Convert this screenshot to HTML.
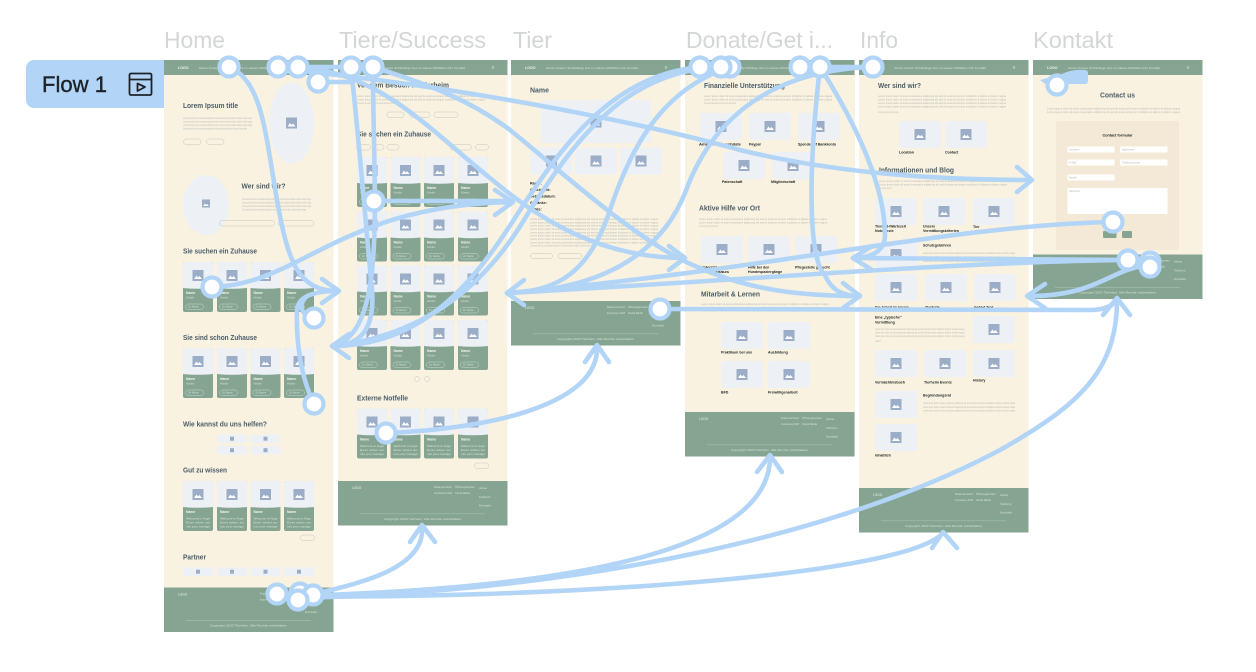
<!DOCTYPE html>
<html><head><meta charset="utf-8"><title>Flow 1</title>
<style>
html,body{margin:0;padding:0;background:#fff;width:1256px;height:672px;overflow:hidden}
svg{display:block;font-family:"Liberation Sans",sans-serif}
.t{font-size:23px;fill:#d3d7d4}
.h{font-size:7px;font-weight:bold;fill:#4a5d68}
.p{font-size:2.6px;fill:#b5bab3}
.b{font-size:3.6px;font-weight:bold;fill:#1c2222}
.w{font-size:3.4px;font-weight:bold;fill:#f4f4ee}
.s{font-size:2.6px;fill:#d5e0d7}
.o{fill:none;stroke:#c3c6bd;stroke-width:.5}
.ow{fill:none;stroke:#c9d8cd;stroke-width:.5}
.c{fill:none;stroke:#b2d5f7;stroke-width:4.6;stroke-linecap:round;stroke-linejoin:round}
.n{fill:#fff;stroke:#b2d5f7;stroke-width:4.2}
</style></head><body>
<svg width="1256" height="672" viewBox="0 0 1256 672" xmlns="http://www.w3.org/2000/svg">
<defs>
<symbol id="ic" viewBox="0 0 11 11" overflow="visible"><rect width="11" height="11" fill="#9cadc7"/><path d="M1.5 9 L4 5.5 L5.5 7.5 L7 6 L9.5 9Z" fill="#fff"/></symbol>
<g id="hd"><rect width="169.5" height="15" fill="#85a592"/><text x="14" y="9" font-size="3.6" font-weight="bold" fill="#f0f2ea">LOGO</text><text x="35" y="8.8" class="s" textLength="92" lengthAdjust="spacingAndGlyphs">Home  Unsere Schützlinge  Gut zu wissen  Mithelfen  Info  Kontakt</text><circle cx="155" cy="7.5" r="1" fill="none" stroke="#e4ebe4" stroke-width=".5"/></g>
<g id="ft"><rect width="169.5" height="44.5" fill="#85a592"/><text x="14" y="8" font-size="3.2" fill="#eef1ea">LOGO</text><text x="96" y="7" class="s" textLength="18" lengthAdjust="spacingAndGlyphs">Datenschutz</text><text x="117" y="7" class="s" textLength="20" lengthAdjust="spacingAndGlyphs">Öffnungszeiten</text><text x="96" y="13" class="s" textLength="18" lengthAdjust="spacingAndGlyphs">Impressum AGB</text><text x="117" y="13" class="s" textLength="15" lengthAdjust="spacingAndGlyphs">Social Media</text><text x="141" y="8" class="s" textLength="8" lengthAdjust="spacingAndGlyphs">Adresse</text><text x="141" y="17" class="s" textLength="12" lengthAdjust="spacingAndGlyphs">Telefonnr.</text><text x="141" y="25.500" class="s" textLength="12" lengthAdjust="spacingAndGlyphs">Kontakt</text><rect x="22" y="32.500" width="125" height=".6" fill="#a9c0b0"/><text x="46" y="39" class="s" textLength="77" lengthAdjust="spacingAndGlyphs">Copyright 2023 Tierheim. Alle Rechte vorbehalten</text></g>
<g id="cd"><rect width="30" height="50" rx="2" fill="#85a592"/><path d="M0 26V2a2 2 0 0 1 2-2h26a2 2 0 0 1 2 2v24q-15 1.500-30 0z" fill="#edf1f6"/><use href="#ic" x="9.500" y="8" width="11" height="11"/><text x="3" y="32" class="w">Name</text><text x="3" y="36.500" class="s">Hündin</text><rect x="2.500" y="42" width="18" height="5.500" rx="2.700" class="ow"/><text x="5" y="45.700" class="s" font-size="2.200">Zu Name</text></g>
<g id="cp"><rect width="30" height="50" rx="2" fill="#85a592"/><path d="M0 26V2a2 2 0 0 1 2-2h26a2 2 0 0 1 2 2v24q-15 1.500-30 0z" fill="#edf1f6"/><use href="#ic" x="9.500" y="8" width="11" height="11"/><text x="3" y="32" class="w">Name</text><text x="3" y="38.500" class="s" textLength="24" lengthAdjust="spacingAndGlyphs">Welcome to Huge</text><text x="3" y="42.500" class="s" textLength="24" lengthAdjust="spacingAndGlyphs">Ever when an</text><text x="3" y="46.500" class="s" textLength="24" lengthAdjust="spacingAndGlyphs">into your manage</text></g>
<g id="pl"><rect width="30" height="8.500" rx="2" fill="#edf1f6"/><rect x="13" y="2.200" width="4" height="4" fill="#9cadc7"/></g>
<g id="im"><rect width="42" height="27" rx="3" fill="#edf1f6"/><use href="#ic" x="15.500" y="8" width="11" height="11"/></g>
<g id="tp"><text class="p" textLength="128" lengthAdjust="spacingAndGlyphs">Lorem ipsum dolor sit amet consectetur adipiscing elit sed do eiusmod tempor incididunt ut labore et dolore magna</text></g>
</defs>

<!-- Titles -->
<text x="164" y="48" class="t" textLength="61" lengthAdjust="spacingAndGlyphs">Home</text>
<text x="339" y="48" class="t" textLength="147" lengthAdjust="spacingAndGlyphs">Tiere/Success</text>
<text x="513" y="48" class="t" textLength="39" lengthAdjust="spacingAndGlyphs">Tier</text>
<text x="686" y="48" class="t" textLength="147" lengthAdjust="spacingAndGlyphs">Donate/Get i...</text>
<text x="860" y="48" class="t" textLength="38" lengthAdjust="spacingAndGlyphs">Info</text>
<text x="1033" y="48" class="t" textLength="80" lengthAdjust="spacingAndGlyphs">Kontakt</text>

<!-- Flow -->
<path d="M164 60H34a8 8 0 0 0-8 8v32a8 8 0 0 0 8 8H164z" fill="#b2d5f7"/>
<text x="42" y="92" font-size="22" fill="#1e2329" stroke="#1e2329" stroke-width=".4" textLength="65" lengthAdjust="spacingAndGlyphs">Flow 1</text>
<g fill="none" stroke="#1e2329" stroke-width="1.800"><rect x="129.500" y="73.500" width="22" height="21.500" rx="1.500"/><path d="M129.500 79.500H151.500"/><path d="M137.500 83.500L145 87 137.500 91z" stroke-linejoin="round"/></g>

<!-- Home -->
<rect x="164" y="60" width="169.500" height="572" fill="#f9f2e1"/>
<use href="#hd" x="164" y="60"/>
<text x="183" y="108" class="h" textLength="55" lengthAdjust="spacingAndGlyphs">Lorem Ipsum title</text>
<use href="#tp" transform="translate(183 119) scale(.54 1)"/><use href="#tp" transform="translate(183 122.500) scale(.54 1)"/><use href="#tp" transform="translate(183 126) scale(.54 1)"/><use href="#tp" transform="translate(183 129.500) scale(.5 1)"/>
<rect x="183.500" y="139" width="17.500" height="5.500" rx="2.700" class="o"/><rect x="206.500" y="139" width="17.500" height="5.500" rx="2.700" class="o"/>
<ellipse cx="291.500" cy="123" rx="22.500" ry="40.500" fill="#edf1f6"/><use href="#ic" x="286" y="117.500" width="11" height="11"/>
<ellipse cx="206" cy="205" rx="23" ry="30" fill="#edf1f6"/><use href="#ic" x="200.500" y="199.500" width="11" height="8"/>
<text x="241.500" y="188.500" class="h" textLength="44" lengthAdjust="spacingAndGlyphs">Wer sind wir?</text>
<use href="#tp" transform="translate(242 200) scale(.54 1)"/><use href="#tp" transform="translate(242 203.500) scale(.54 1)"/><use href="#tp" transform="translate(242 207) scale(.54 1)"/><use href="#tp" transform="translate(242 210.500) scale(.5 1)"/>
<rect x="219.500" y="220.500" width="55" height="5.500" rx="2.700" class="o"/><rect x="278" y="220.500" width="36" height="5.500" rx="2.700" class="o"/>
<text x="183" y="253.500" class="h" textLength="74" lengthAdjust="spacingAndGlyphs">Sie suchen ein Zuhause</text>
<use href="#cd" x="183" y="262"/><use href="#cd" x="217" y="262"/><use href="#cd" x="250.500" y="262"/><use href="#cd" x="284" y="262"/>
<text x="183" y="340" class="h" textLength="74" lengthAdjust="spacingAndGlyphs">Sie sind schon Zuhause</text>
<use href="#cd" x="183" y="348"/><use href="#cd" x="217" y="348"/><use href="#cd" x="250.500" y="348"/><use href="#cd" x="284" y="348"/>
<text x="183" y="426.500" class="h" textLength="84" lengthAdjust="spacingAndGlyphs">Wie kannst du uns helfen?</text>
<use href="#pl" x="217" y="434.500"/><use href="#pl" x="250.500" y="434.500"/><use href="#pl" x="217" y="446"/><use href="#pl" x="250.500" y="446"/>
<text x="183" y="472.500" class="h" textLength="44" lengthAdjust="spacingAndGlyphs">Gut zu wissen</text>
<use href="#cp" x="183" y="481"/><use href="#cp" x="217" y="481"/><use href="#cp" x="250.500" y="481"/><use href="#cp" x="284" y="481"/>
<rect x="300.500" y="535" width="14" height="5.500" rx="2.700" class="o"/>
<text x="183" y="559.500" class="h" textLength="23" lengthAdjust="spacingAndGlyphs">Partner</text>
<use href="#pl" x="183" y="567.500"/><use href="#pl" x="217" y="567.500"/><use href="#pl" x="250.500" y="567.500"/><use href="#pl" x="284" y="567.500"/>
<use href="#ft" x="164" y="587.500"/>

<!-- Tiere -->
<rect x="338" y="60" width="169.500" height="465" fill="#f9f2e1"/>
<use href="#hd" x="338" y="60"/>
<text x="357" y="87.500" class="h" textLength="92" lengthAdjust="spacingAndGlyphs">Vor dem Besuch im Tierheim</text>
<use href="#tp" transform="translate(357 97)"/><use href="#tp" transform="translate(357 100.500)"/><use href="#tp" transform="translate(357 104) scale(.3 1)"/>
<rect x="387" y="112" width="17" height="5.500" rx="2.700" class="o"/><rect x="410" y="112" width="20" height="5.500" rx="2.700" class="o"/><rect x="434" y="112" width="24" height="5.500" rx="2.700" class="o"/>
<text x="357" y="136.500" class="h" textLength="74" lengthAdjust="spacingAndGlyphs">Sie suchen ein Zuhause</text>
<rect x="356.500" y="144.500" width="14" height="5.500" rx="2.700" class="o"/><rect x="374" y="144.500" width="10" height="5.500" rx="2.700" class="o"/><rect x="387" y="144.500" width="12" height="5.500" rx="2.700" class="o"/><rect x="450.500" y="144.500" width="21" height="5.500" rx="2.700" class="o"/><rect x="475.500" y="144.500" width="13" height="5.500" rx="2.700" class="o"/>
<use href="#cd" x="357" y="157"/><use href="#cd" x="390.500" y="157"/><use href="#cd" x="424" y="157"/><use href="#cd" x="458" y="157"/>
<use href="#cd" x="357" y="211.500"/><use href="#cd" x="390.500" y="211.500"/><use href="#cd" x="424" y="211.500"/><use href="#cd" x="458" y="211.500"/>
<use href="#cd" x="357" y="265.500"/><use href="#cd" x="390.500" y="265.500"/><use href="#cd" x="424" y="265.500"/><use href="#cd" x="458" y="265.500"/>
<use href="#cd" x="357" y="320"/><use href="#cd" x="390.500" y="320"/><use href="#cd" x="424" y="320"/><use href="#cd" x="458" y="320"/>
<circle cx="417" cy="379" r="2.500" class="o"/><circle cx="427" cy="379" r="2.500" class="o"/>
<text x="357" y="400.500" class="h" textLength="51" lengthAdjust="spacingAndGlyphs">Externe Notfelle</text>
<use href="#cp" x="357" y="408.500"/><use href="#cp" x="390.500" y="408.500"/><use href="#cp" x="424" y="408.500"/><use href="#cp" x="458" y="408.500"/>
<rect x="474.500" y="463" width="14" height="5.500" rx="2.700" class="o"/>
<use href="#ft" x="338" y="481"/>

<!-- Tier -->
<rect x="511" y="60" width="169.500" height="285" fill="#f9f2e1"/>
<use href="#hd" x="511" y="60"/>
<text x="530" y="92.500" class="h" textLength="19" lengthAdjust="spacingAndGlyphs">Name</text>
<rect x="541" y="100" width="110" height="43" rx="3" fill="#edf1f6"/><use href="#ic" x="590.500" y="116.500" width="11" height="11"/>
<use href="#im" x="530.500" y="147.500"/><use href="#im" x="575" y="147.500"/><use href="#im" x="620" y="147.500"/>
<text x="530" y="184.500" class="b">Rasse:</text><text x="530" y="191" class="b">Geschlecht:</text><text x="530" y="197.500" class="b">Geburtsdatum:</text><text x="530" y="204" class="b">Getränke:</text><text x="530" y="210.500" class="b">Größe:</text>
<use href="#tp" transform="translate(530 220)"/><use href="#tp" transform="translate(530 223.300)"/><use href="#tp" transform="translate(530 226.600)"/><use href="#tp" transform="translate(530 230)"/><use href="#tp" transform="translate(530 233.300)"/><use href="#tp" transform="translate(530 236.600)"/><use href="#tp" transform="translate(530 240)"/><use href="#tp" transform="translate(530 243.300)"/><use href="#tp" transform="translate(530 246.600) scale(.5 1)"/>
<rect x="530.500" y="253.500" width="22" height="5" rx="2.500" class="o"/><rect x="558" y="253.500" width="24" height="5" rx="2.500" class="o"/>
<use href="#ft" x="511" y="301"/>

<!-- Donate -->
<rect x="685" y="60" width="170" height="396" fill="#f9f2e1"/>
<use href="#hd" x="685" y="60"/>
<text x="704" y="88" class="h" textLength="81" lengthAdjust="spacingAndGlyphs">Finanzielle Unterstützung</text>
<use href="#tp" transform="translate(704 97)"/><use href="#tp" transform="translate(704 100.500)"/><use href="#tp" transform="translate(704 104) scale(.25 1)"/>
<use href="#im" x="700" y="113" /><use href="#im" x="749" y="113"/><use href="#im" x="798" y="113"/>
<text x="699" y="145.500" class="b" textLength="42" lengthAdjust="spacingAndGlyphs">Amazon Wunschliste</text><text x="749" y="145.500" class="b">Paypal</text><text x="798" y="145.500" class="b" textLength="38" lengthAdjust="spacingAndGlyphs">Spende auf Bankkonto</text>
<use href="#im" x="723" y="152"/><use href="#im" x="772" y="152"/>
<text x="722" y="183" class="b">Patenschaft</text><text x="771" y="183" class="b">Mitgliedschaft</text>
<text x="699" y="210.500" class="h" textLength="61" lengthAdjust="spacingAndGlyphs">Aktive Hilfe vor Ort</text>
<use href="#tp" transform="translate(699 220)"/><use href="#tp" transform="translate(699 223.500)"/><use href="#tp" transform="translate(699 227) scale(.15 1)"/>
<use href="#im" x="701" y="236"/><use href="#im" x="748" y="236"/><use href="#im" x="795" y="236"/>
<text x="701" y="268.500" class="b" textLength="30" lengthAdjust="spacingAndGlyphs">Unterstützung im</text><text x="701" y="273" class="b" textLength="28" lengthAdjust="spacingAndGlyphs">Katzenhaus</text><text x="748" y="268.500" class="b">Hilfe bei den</text><text x="748" y="273" class="b">Hundespaziergänge</text><text x="795" y="268.500" class="b">Pflegestelle gesucht</text>
<text x="701" y="296.500" class="h" textLength="59" lengthAdjust="spacingAndGlyphs">Mitarbeit &amp; Lernen</text>
<use href="#tp" transform="translate(701 305)"/><use href="#tp" transform="translate(701 311.500) scale(.12 1)"/>
<use href="#im" x="721" y="322"/><use href="#im" x="768" y="322"/>
<text x="721" y="353.500" class="b">Praktikum bei uns</text><text x="768" y="353.500" class="b">Ausbildung</text>
<use href="#im" x="721" y="361"/><use href="#im" x="768" y="361"/>
<text x="721" y="393.500" class="b">BFD</text><text x="768" y="393.500" class="b">Freiwilligenarbeit</text>
<use href="#ft" x="685" y="412"/>

<!-- Info -->
<rect x="859" y="60" width="169.500" height="472" fill="#f9f2e1"/>
<use href="#hd" x="859" y="60"/>
<text x="878" y="88" class="h" textLength="43" lengthAdjust="spacingAndGlyphs">Wer sind wir?</text>
<use href="#tp" transform="translate(878 97)"/><use href="#tp" transform="translate(878 100.500)"/><use href="#tp" transform="translate(878 104)"/><use href="#tp" transform="translate(878 107.500)"/><use href="#tp" transform="translate(878 113) scale(.16 1)"/>
<use href="#im" x="899" y="121"/><use href="#im" x="945" y="121"/>
<text x="899" y="153.500" class="b">Location</text><text x="945" y="153.500" class="b">Contact</text>
<text x="879" y="172.500" class="h" textLength="75" lengthAdjust="spacingAndGlyphs">Informationen und Blog</text>
<use href="#tp" transform="translate(879 182)"/><use href="#tp" transform="translate(879 185.500)"/><use href="#tp" transform="translate(879 189) scale(.1 1)"/>
<use href="#im" x="875" y="198"/><use href="#im" x="923" y="198"/><use href="#im" x="973" y="198"/>
<text x="875" y="227.500" class="b">Tierarzt-/Wartezeit</text><text x="875" y="232" class="b">Notdienste</text><text x="923" y="227.500" class="b">Unsere</text><text x="923" y="232" class="b">Vermittlungskriterien</text><text x="973" y="228" class="b">Tier</text><text x="973" y="233" class="b">gefunden?</text>
<use href="#im" x="875" y="241"/>
<text x="923" y="246.500" class="b">Schutzgebühren</text>
<use href="#tp" transform="translate(923 254) scale(.72 1)"/><use href="#tp" transform="translate(923 258) scale(.72 1)"/><use href="#tp" transform="translate(923 262) scale(.72 1)"/>
<use href="#im" x="875" y="274"/><use href="#im" x="925" y="274"/><use href="#im" x="974" y="274"/>
<text x="875" y="308.500" class="b">Die Arbeit im Verein</text><text x="925" y="308.500" class="b">Tierärzte</text><text x="974" y="308.500" class="b">Gebiet Text</text>
<text x="875" y="318.500" class="b">Eine „typische"</text><text x="875" y="323.500" class="b">Vermittlung</text>
<use href="#tp" transform="translate(875 330) scale(.7 1)"/><use href="#tp" transform="translate(875 333.500) scale(.7 1)"/><use href="#tp" transform="translate(875 337) scale(.7 1)"/><text x="875" y="342" class="p" fill="#555">mehr</text>
<use href="#im" x="973" y="316"/>
<use href="#im" x="875" y="350"/><use href="#im" x="924" y="350"/><use href="#im" x="973" y="350"/>
<text x="875" y="383.500" class="b">Vermächtnisbuch</text><text x="924" y="383.500" class="b">Tierheim Events</text><text x="973" y="381.500" class="b">History</text>
<use href="#im" x="875" y="391"/>
<text x="923" y="396.500" class="b">Begründungsrat</text>
<use href="#tp" transform="translate(923 404) scale(.72 1)"/><use href="#tp" transform="translate(923 408) scale(.72 1)"/><use href="#tp" transform="translate(923 411.500) scale(.72 1)"/>
<use href="#im" x="875" y="424"/>
<text x="875" y="456.500" class="b">Inhaltlich</text>
<use href="#ft" x="859" y="488"/>

<!-- Kontakt -->
<rect x="1033" y="60" width="169.500" height="239" fill="#f9f2e1"/>
<use href="#hd" x="1033" y="60"/>
<text x="1100" y="97.500" class="h" textLength="35" lengthAdjust="spacingAndGlyphs">Contact us</text>
<use href="#tp" transform="translate(1047 109.500) scale(1.040 1)"/><use href="#tp" transform="translate(1047 113) scale(1.040 1)"/>
<rect x="1056" y="121" width="123" height="129" rx="2" fill="#f4e8d6"/>
<text x="1102.500" y="136.500" class="b" textLength="30" lengthAdjust="spacingAndGlyphs">Contact formular</text>
<g fill="#fff"><rect x="1067.500" y="146.500" width="47" height="6" rx="1"/><rect x="1120" y="146.500" width="47.500" height="6" rx="1"/><rect x="1067.500" y="159.500" width="47" height="6" rx="1"/><rect x="1120" y="159.500" width="47.500" height="6" rx="1"/><rect x="1067.500" y="174.500" width="47" height="6" rx="1"/><rect x="1067.500" y="188" width="100" height="26" rx="1"/></g>
<g class="p" font-size="2.400"><text x="1069" y="150.500" class="p">Vorname</text><text x="1122" y="150.500" class="p">Nachname</text><text x="1069" y="163.500" class="p">E-Mail</text><text x="1122" y="163.500" class="p">Telefonnummer</text><text x="1069" y="178.500" class="p">Betreff</text><text x="1069" y="192" class="p">Nachricht</text></g>
<rect x="1103" y="231" width="13.500" height="7" rx="1" fill="#85a592"/><rect x="1122" y="231" width="10" height="7" rx="1" fill="#85a592"/>
<use href="#ft" x="1033" y="254.500"/>

<!-- Connectors -->
<g class="c">
<path d="M232 68C262 85 265 130 277 200C288 262 298 291 338 291"/>
<path d="M212 287C300 285 340 205 512 202"/>
<path d="M314 404C300 375 296 340 297 310C298 296 315 291 338 291"/>
<path d="M314 318C302 316 298 306 305 298"/>
<path d="M351 67C360 150 368 250 372 290C375 330 360 345 333 346"/>
<path d="M373 67C373 200 388 332 333 346"/>
<path d="M374 201H512"/>
<path d="M278 67H351"/>
<path d="M298 67C380 72 430 130 490 178C540 220 600 258 685 258"/>
<path d="M310 72C480 90 650 125 740 150C830 172 930 180 1030 180"/>
<path d="M318 82H352"/>
<path d="M373 67C430 85 470 100 510 130C560 170 640 245 700 268C750 290 800 296 860 296"/>
<path d="M873 67C780 70 715 110 685 193C660 255 600 290 507 293"/>
<path d="M700 67C610 75 560 150 520 210C470 290 420 345 333 346"/>
<path d="M721 67C620 70 570 150 530 210C490 280 430 335 333 346"/>
<path d="M730 67C660 90 630 150 610 210C590 270 560 292 507 293"/>
<path d="M1113 222C950 225 770 270 507 293"/>
<path d="M1128 260C950 262 750 280 507 293"/>
<path d="M1128 260L853 258"/>
<path d="M660 309L1090 310C1105 310 1115 305 1117 298"/>
<path d="M1150 265C1110 268 1100 296 1028 296"/>
<path d="M820 67C808 170 808 260 825 275C832 292 845 296 860 296"/>
<path d="M820 67C860 130 885 190 885 235C885 252 870 258 853 258"/>
<path d="M800 67H873"/>
<path d="M313 594C370 582 425 565 422 527"/>
<path d="M300 596C480 590 770 570 770 457"/>
<path d="M298 598C600 590 850 530 1000 450C1080 405 1117 370 1117 300"/>
<path d="M277 596C500 600 900 580 943 533"/>
<path d="M386 433C470 430 600 410 597 346"/>
<!-- arrowheads -->
<path d="M322 279L339 291L322 303"/>
<path d="M349 334L332 346L349 358"/>
<path d="M495 190L513 202L495 215"/>
<path d="M669 246L685 258L669 270"/>
<path d="M524 280L507 293L524 305"/>
<path d="M585 362L597 345L609 362"/>
<path d="M410 542L422 525L435 542"/>
<path d="M757 472L770 455L782 472"/>
<path d="M932 548L943 532L957 548"/>
<path d="M1103 315L1117 298L1130 315"/>
<path d="M1017 167L1032 180L1017 192"/>
<path d="M843 283L860 296L843 308"/>
<path d="M872 246L853 258L872 270"/>
<path d="M1045 284L1027 296L1045 308"/>
</g>
<!-- blob -->
<path d="M1040 80L1062 74Q1070 70 1078 70H1085Q1088 70 1088 73V81Q1088 84 1085 84H1062Q1052 86 1048 86z" fill="#b2d5f7"/>

<!-- Handles -->
<g class="n">
<circle cx="229" cy="67" r="9.500"/><circle cx="278" cy="67" r="9.500"/><circle cx="298" cy="67" r="9.500"/><circle cx="318" cy="82" r="9.500"/>
<circle cx="212" cy="287" r="9.500"/><circle cx="314" cy="318" r="9.500"/><circle cx="314" cy="404" r="9.500"/>
<circle cx="300" cy="593" r="9.500"/><circle cx="313" cy="595" r="9.500"/><circle cx="277" cy="594" r="9.500"/><circle cx="298" cy="600" r="9.500"/>
<circle cx="351" cy="67" r="9.500"/><circle cx="373" cy="67" r="9.500"/><circle cx="374" cy="201" r="9.500"/><circle cx="386" cy="433" r="9.500"/>
<circle cx="660" cy="309" r="9.500"/>
<circle cx="730" cy="67" r="9.500"/><circle cx="700" cy="67" r="9.500"/><circle cx="721" cy="67" r="9.500"/><circle cx="800" cy="67" r="9.500"/><circle cx="820" cy="67" r="9.500"/><circle cx="873" cy="67" r="9.500"/>
<circle cx="1057" cy="85" r="9.500"/><circle cx="1113" cy="222" r="9.500"/><circle cx="1128" cy="260" r="9.500"/><circle cx="1150" cy="262" r="9.500"/><circle cx="1150" cy="267" r="9.500"/>
</g>
</svg>
</body></html>
